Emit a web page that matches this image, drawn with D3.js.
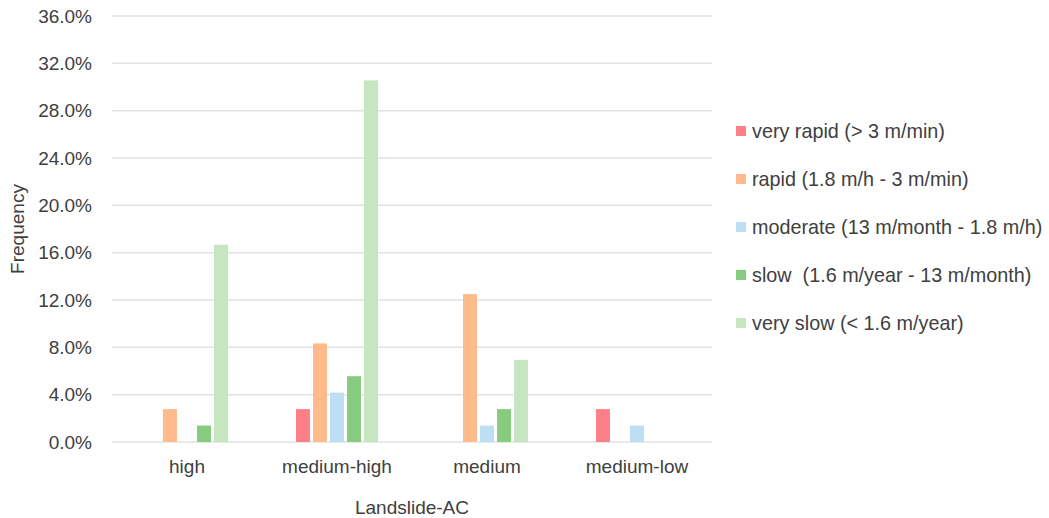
<!DOCTYPE html>
<html>
<head>
<meta charset="utf-8">
<script src="https://cdn.jsdelivr.net/npm/d3@7"></script>
<style>
body { margin: 0; background: #fff; }
text { font-family: "Liberation Sans", Arial, sans-serif; fill: #404040; white-space: pre; }
</style>
</head>
<body>
<div id="chart"></div>
<script>
const w = 1049;
const h = 518;

// data (percent)
const categories = ['high', 'medium-high', 'medium', 'medium-low'];
const seriesNames = [
  'very rapid (> 3 m/min)',
  'rapid (1.8 m/h - 3 m/min)',
  'moderate (13 m/month - 1.8 m/h)',
  'slow  (1.6 m/year - 13 m/month)',
  'very slow (< 1.6 m/year)'
];
const veryRapid = [0, 2.78, 0, 2.78];
const rapid = [2.78, 8.33, 12.5, 0];
const moderate = [0, 4.17, 1.39, 1.39];
const slow = [1.39, 5.56, 2.78, 0];
const verySlow = [16.67, 30.56, 6.94, 0];
const yTicks = [0, 4, 8, 12, 16, 20, 24, 28, 32, 36];
const colors = ['#ff7f88', '#ffbb8b', '#bcdff3', '#87cc7e', '#c5e6bf'];

const seriesValues = [veryRapid, rapid, moderate, slow, verySlow];

const svg = d3.select('#chart')
  .append('svg')
  .attr('width', w)
  .attr('height', h);

//Scales
const x0 = d3.scaleBand().domain(categories).range([112, 712]);
const x1 = d3.scaleBand().domain(d3.range(seriesNames.length)).range([-41, 41]).paddingInner(0.18);
const y = d3.scaleLinear().domain([0, 36]).range([442, 16]);

//Gridlines
svg.append('g')
  .selectAll('line')
  .data(yTicks)
  .enter()
  .append('line')
  .attr('x1', 112)
  .attr('x2', 712)
  .attr('y1', d => y(d))
  .attr('y2', d => y(d))
  .attr('stroke', '#e2e2e2')
  .attr('stroke-width', 1.5);

//Y tick labels
svg.append('g')
  .selectAll('text')
  .data(yTicks)
  .enter()
  .append('text')
  .attr('x', 92)
  .attr('y', d => y(d))
  .attr('dy', '0.35em')
  .attr('text-anchor', 'end')
  .style('font-size', '19px')
  .text(d => d.toFixed(1) + '%');

//Bars
const groups = svg.selectAll('.group')
  .data(categories)
  .enter()
  .append('g')
  .attr('class', 'group')
  .attr('transform', d => `translate(${x0(d) + x0.bandwidth() / 2},0)`);

groups.selectAll('rect')
  .data((c, ci) => seriesValues.map((s, si) => ({si, v: s[ci]})))
  .enter()
  .append('rect')
  .filter(d => d.v > 0)
  .attr('x', d => x1(d.si))
  .attr('width', x1.bandwidth())
  .attr('y', d => y(d.v))
  .attr('height', d => y(0) - y(d.v))
  .attr('fill', d => colors[d.si]);

//Category labels
svg.append('g')
  .selectAll('text')
  .data(categories)
  .enter()
  .append('text')
  .attr('x', d => x0(d) + x0.bandwidth() / 2)
  .attr('y', 473)
  .attr('text-anchor', 'middle')
  .style('font-size', '19px')
  .text(d => d);

//Axis titles
svg.append('text')
  .attr('x', 412)
  .attr('y', 514)
  .attr('text-anchor', 'middle')
  .style('font-size', '19px')
  .text('Landslide-AC');

svg.append('text')
  .attr('transform', 'translate(24,229) rotate(-90)')
  .attr('text-anchor', 'middle')
  .style('font-size', '19px')
  .text('Frequency');

//Legend
const legend = svg.append('g').attr('id', 'legend');
const legItems = legend.selectAll('g')
  .data(seriesNames)
  .enter()
  .append('g')
  .attr('transform', (d, i) => `translate(736,${131 + i * 48})`);

legItems.append('rect')
  .attr('x', 0)
  .attr('y', -5)
  .attr('width', 10)
  .attr('height', 10)
  .attr('fill', (d, i) => colors[i]);

legItems.append('text')
  .attr('x', 16)
  .attr('y', 0)
  .attr('dy', '0.35em')
  .style('font-size', '19.8px')
  .text(d => d);
</script>
</body>
</html>
